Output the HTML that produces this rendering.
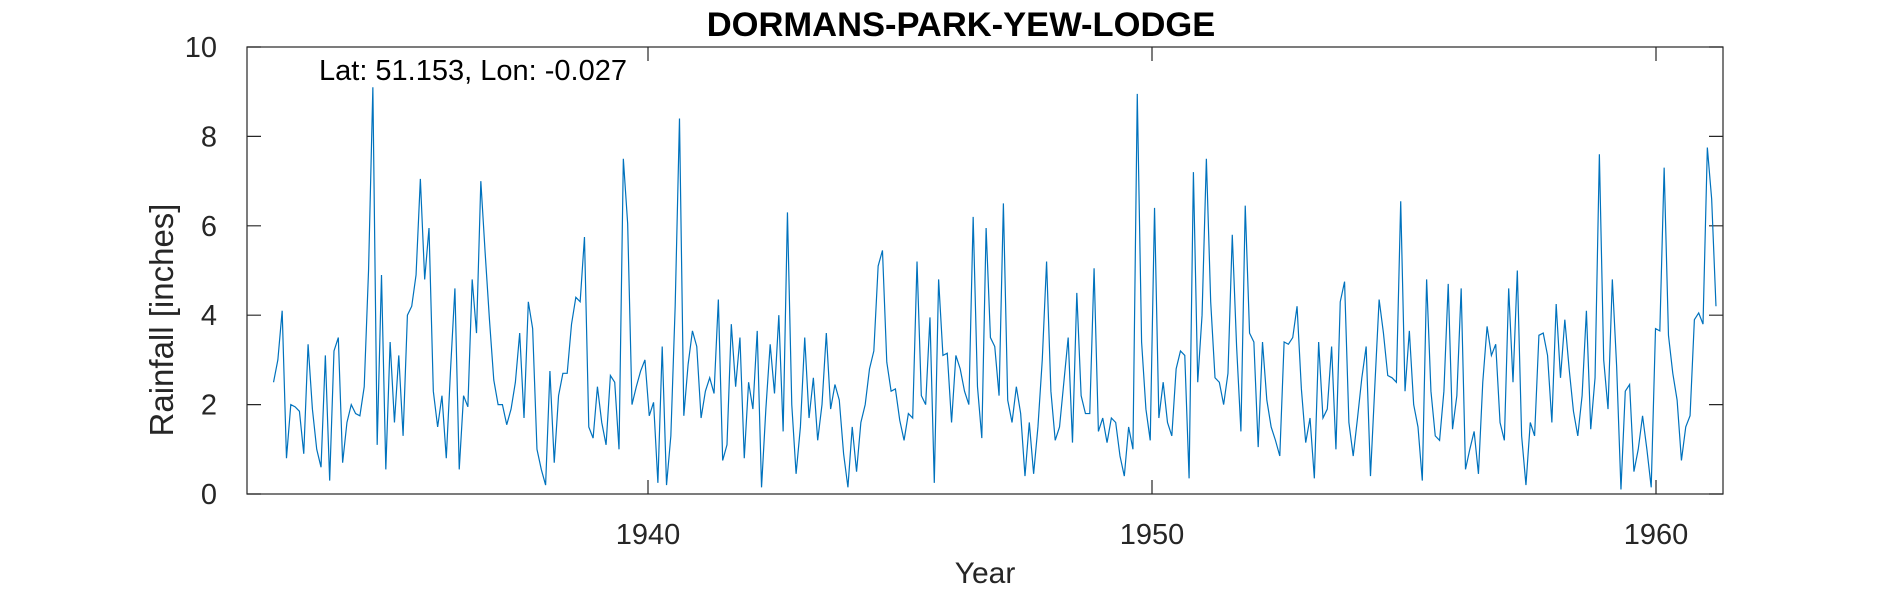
<!DOCTYPE html>
<html><head><meta charset="utf-8"><style>
html,body{margin:0;padding:0;background:#fff;}
svg{display:block;font-family:"Liberation Sans",Arial,sans-serif;}
</style></head><body>
<svg id="chart" width="1890" height="591" viewBox="0 0 1890 591">
<rect x="0" y="0" width="1890" height="591" fill="#fff"/>
<g id="axes"></g>
<path id="series" fill="none" stroke="#0072BD" stroke-width="1.2"/>
<text x="961" y="36" text-anchor="middle" font-size="34.5" font-weight="bold" fill="#000">DORMANS-PARK-YEW-LODGE</text>
<text x="319" y="80" font-size="29" fill="#000">Lat: 51.153, Lon: -0.027</text>
<text x="985" y="583" text-anchor="middle" font-size="30" fill="#262626">Year</text>
<text transform="translate(173,320) rotate(-90)" text-anchor="middle" font-size="33" fill="#262626">Rainfall [inches]</text>
</svg>
<script>
const startYear = 1932.57;
const endYear = 1961.19;
const xTicks = [1940, 1950, 1960];
const yTicks = [0, 2, 4, 6, 8, 10];
const rainfall = [2.5,3.0,4.1,0.8,2.0,1.95,1.85,0.9,3.35,1.9,1.0,0.6,3.1,0.3,3.2,3.5,0.7,1.6,2.0,1.8,1.75,2.4,5.0,9.1,1.1,4.9,0.55,3.4,1.6,3.1,1.3,4.0,4.2,4.9,7.05,4.8,5.95,2.3,1.5,2.2,0.8,2.8,4.6,0.55,2.2,1.95,4.8,3.6,7.0,5.4,3.9,2.55,2.0,2.0,1.55,1.9,2.5,3.6,1.7,4.3,3.7,1.0,0.55,0.2,2.75,0.7,2.2,2.7,2.7,3.8,4.4,4.3,5.75,1.5,1.25,2.4,1.6,1.1,2.65,2.5,1.0,7.5,6.05,2.0,2.4,2.75,3.0,1.75,2.05,0.25,3.3,0.2,1.3,4.2,8.4,1.75,2.9,3.65,3.3,1.7,2.3,2.6,2.25,4.35,0.75,1.1,3.8,2.4,3.5,0.8,2.5,1.9,3.65,0.15,1.9,3.35,2.25,4.0,1.4,6.3,2.0,0.45,1.5,3.5,1.7,2.6,1.2,2.0,3.6,1.9,2.45,2.1,0.9,0.15,1.5,0.5,1.6,2.0,2.8,3.2,5.1,5.45,2.95,2.3,2.35,1.65,1.2,1.8,1.7,5.2,2.2,2.0,3.95,0.25,4.8,3.1,3.15,1.6,3.1,2.8,2.3,2.0,6.2,2.4,1.25,5.95,3.5,3.3,2.2,6.5,2.1,1.6,2.4,1.8,0.4,1.6,0.45,1.5,3.0,5.2,2.3,1.2,1.5,2.5,3.5,1.15,4.5,2.2,1.8,1.8,5.05,1.4,1.7,1.15,1.7,1.6,0.85,0.4,1.5,1.0,8.95,3.4,1.9,1.2,6.4,1.7,2.5,1.6,1.3,2.8,3.2,3.1,0.35,7.2,2.5,4.0,7.5,4.3,2.6,2.5,2.0,2.7,5.8,3.3,1.4,6.45,3.6,3.4,1.05,3.4,2.1,1.5,1.2,0.85,3.4,3.35,3.5,4.2,2.35,1.15,1.7,0.35,3.4,1.7,1.9,3.3,1.0,4.3,4.75,1.6,0.85,1.7,2.6,3.3,0.4,2.4,4.35,3.6,2.65,2.6,2.5,6.55,2.3,3.65,2.0,1.5,0.3,4.8,2.3,1.3,1.2,2.3,4.7,1.45,2.2,4.6,0.55,1.0,1.4,0.45,2.5,3.75,3.1,3.35,1.6,1.2,4.6,2.5,5.0,1.3,0.2,1.6,1.3,3.55,3.6,3.1,1.6,4.25,2.6,3.9,2.8,1.85,1.3,2.2,4.1,1.45,2.6,7.6,3.0,1.9,4.8,2.85,0.1,2.3,2.45,0.5,1.0,1.75,1.0,0.15,3.7,3.65,7.3,3.55,2.7,2.1,0.75,1.5,1.75,3.9,4.05,3.8,7.75,6.6,4.2];

const L = 247, R = 1723, T = 47, B = 494;
function xScale(yr){ return 648 + (yr - 1940) * 50.4; }
function yScale(v){ return B - (v / 10) * (B - T); }
const NS = 'http://www.w3.org/2000/svg';
const axes = document.getElementById('axes');

const box = document.createElementNS(NS, 'rect');
box.setAttribute('x', L); box.setAttribute('y', T);
box.setAttribute('width', R - L); box.setAttribute('height', B - T);
box.setAttribute('fill', 'none'); box.setAttribute('stroke', '#262626'); box.setAttribute('stroke-width', '1.2');


axes.appendChild(box);

yTicks.forEach(function(t){
  const y = yScale(t);
  const tk = document.createElementNS(NS, 'path');
  tk.setAttribute('d', 'M' + L + ' ' + y + 'h14M' + R + ' ' + y + 'h-14');
  tk.setAttribute('stroke', '#262626'); tk.setAttribute('stroke-width', '1.2');
  
  
  axes.appendChild(tk);
  const lb = document.createElementNS(NS, 'text');
  lb.setAttribute('x', L - 30); lb.setAttribute('y', y + 10);
  lb.setAttribute('text-anchor', 'end'); lb.setAttribute('font-size', '29'); lb.setAttribute('fill', '#262626');
  lb.textContent = t;
  
  
  axes.appendChild(lb);
});
xTicks.forEach(function(t){
  const x = xScale(t);
  const tk = document.createElementNS(NS, 'path');
  tk.setAttribute('d', 'M' + x + ' ' + B + 'v-14M' + x + ' ' + T + 'v14');
  tk.setAttribute('stroke', '#262626'); tk.setAttribute('stroke-width', '1.2');
  
  
  axes.appendChild(tk);
  const lb = document.createElementNS(NS, 'text');
  lb.setAttribute('x', x); lb.setAttribute('y', B + 50);
  lb.setAttribute('text-anchor', 'middle'); lb.setAttribute('font-size', '29'); lb.setAttribute('fill', '#262626');
  lb.textContent = t;
  
  
  axes.appendChild(lb);
});

const n = rainfall.length;
let d = '';
rainfall.forEach(function(v, i){
  const yr = startYear + i * (endYear - startYear) / (n - 1);
  d += (i ? 'L' : 'M') + xScale(yr).toFixed(2) + ' ' + yScale(v).toFixed(2);
});
document.getElementById('series').setAttribute('d', d);
</script>
</body></html>
